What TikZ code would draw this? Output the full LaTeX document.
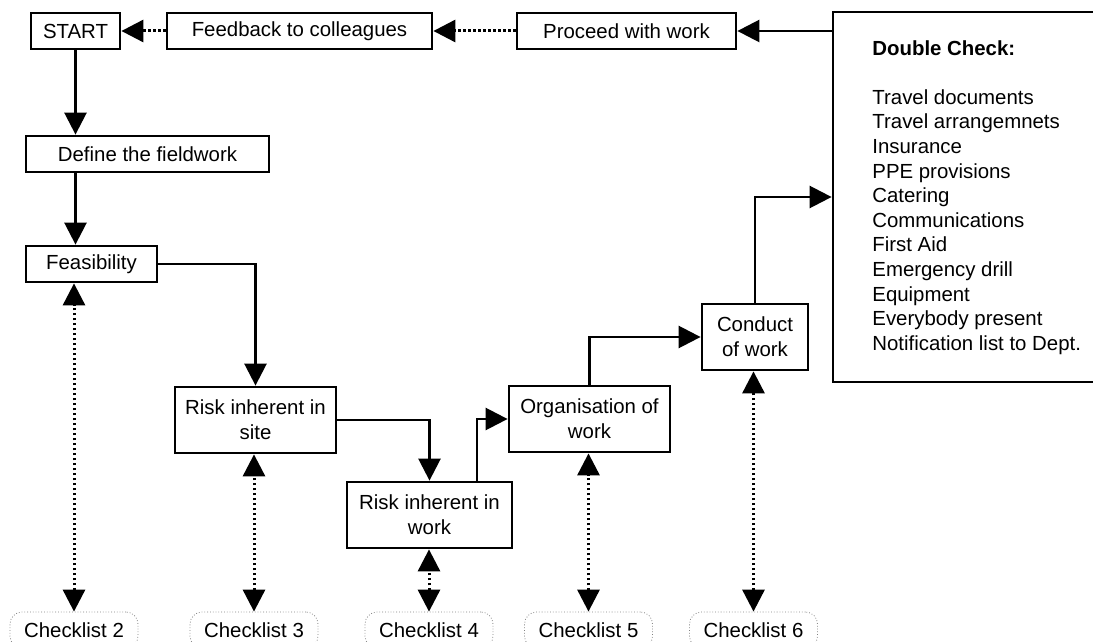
\documentclass[tikz,border=0pt]{standalone}
\usepackage{fontspec}
\setmainfont{Liberation Sans}
\usetikzlibrary{arrows.meta}

\begin{document}
\begin{tikzpicture}[x={(0.5pt,0pt)}, y={(0pt,-0.5pt)},
    every node/.style={font=\fontsize{10.2}{12.3}\selectfont},
    box/.style={draw, line width=1.4pt, inner sep=0pt, align=center},
    checklist/.style={draw=gray, densely dotted, line width=0.4pt, rounded corners=6pt, minimum width=64pt, minimum height=18pt, inner sep=0pt},
    flow/.style={line width=1.3pt, -{Triangle[length=11pt,width=11pt]}},
    link/.style={flow, line width=1.5pt, dash pattern=on 1.3pt off 1.2pt}]
    \useasboundingbox (0,0) rectangle (1093,642);
    \clip (0,0) rectangle (1093,642);

    % Top row
    \node[box, minimum width=44.5pt, minimum height=18pt] (start) at (75.5,31) {START};
    \node[box, minimum width=132.5pt, minimum height=18pt] (feedback) at (299.5,31) {Feedback to colleagues};
    \node[box, minimum width=109.5pt, minimum height=18pt] (proceed) at (626.5,31) {Proceed with work};

    % Steps
    \node[box, minimum width=121.5pt, minimum height=18pt] (define) at (147.5,154) {Define the fieldwork};
    \node[box, minimum width=65.5pt, minimum height=18pt] (feas) at (91.5,264) {Feasibility};
    \node[box, minimum width=80.5pt, minimum height=33pt] (site) at (255.5,420) {Risk inherent in\\site};
    \node[box, minimum width=82.5pt, minimum height=33pt] (work) at (429.5,515) {Risk inherent in\\work};
    \node[box, minimum width=80.5pt, minimum height=33pt] (org) at (589.5,419) {Organisation of\\work};
    \node[box, minimum width=53pt, minimum height=33pt] (conduct) at (755,337) {Conduct\\of work};

    % Double check box
    \node[box, minimum width=138.5pt, minimum height=185pt] (dbl) at (971.5,197) {};
    \node[anchor=north west, align=left, inner sep=0pt] (dbltext) at (872,40) {\textbf{Double Check:}\\[12.3pt]
        Travel documents\\Travel arrangemnets\\Insurance\\PPE provisions\\Catering\\Communications\\
        First Aid\\Emergency drill\\Equipment\\Everybody present\\Notification list to Dept.};

    % Checklists
    \foreach \n/\x in {2/74, 3/254, 4/429, 5/588.5, 6/753.5} {
        \node[checklist] (cl\n) at (\x,630) {Checklist \n};
    }

    % Arrows
    \draw[link] (feedback) -- (start);
    \draw[link] (proceed) -- (feedback);
    \draw[flow] (proceed.east -| dbl.west) -- (proceed.east);
    \draw[flow] (start.south) -- (start.south |- define.north);
    \draw[flow] (start.south |- define.south) -- (start.south |- feas.north);
    \draw[flow] (feas.east) -| (site.north);
    \draw[flow] (site.east) -| (work.north);
    \draw[flow] ([xshift=23.75pt]work.north) |- (org.west);
    \draw[flow] (org.north) |- (conduct.west);
    \draw[flow] (conduct.north) |- (dbl.west);
    \foreach \n/\t in {2/feas, 3/site, 4/work, 5/org, 6/conduct} {
        \draw[link, {Triangle[length=11pt,width=11pt]}-{Triangle[length=11pt,width=11pt]}] (cl\n.north) -- (cl\n.north |- \t.south);
    }
\end{tikzpicture}
\end{document}
